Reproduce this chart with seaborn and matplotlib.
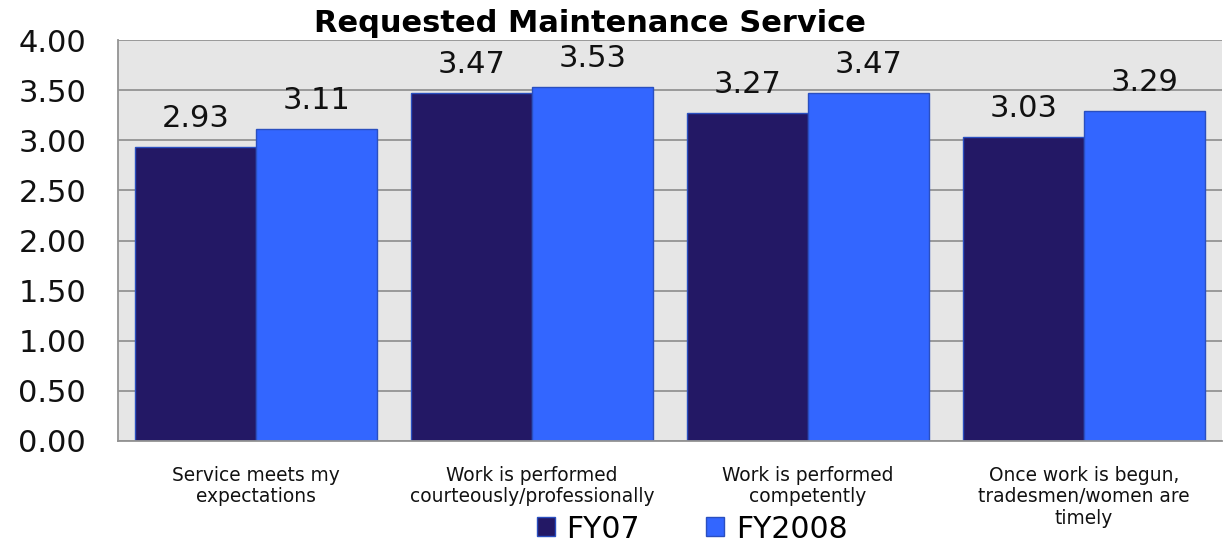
import matplotlib
matplotlib.use("Agg")
import matplotlib.pyplot as plt
import seaborn as sns
import pandas as pd
import numpy as np

categories = [
    "Service meets my\nexpectations",
    "Work is performed\ncourteously/professionally",
    "Work is performed\ncompetently",
    "Once work is begun,\ntradesmen/women are\ntimely",
]
fy07 = [2.93, 3.47, 3.27, 3.03]
fy2008 = [3.11, 3.53, 3.47, 3.29]
series_names = ["FY07", "FY2008"]
yticks = [0.0, 0.5, 1.0, 1.5, 2.0, 2.5, 3.0, 3.5, 4.0]

df = pd.DataFrame({
    "category": categories * 2,
    "series": [series_names[0]] * 4 + [series_names[1]] * 4,
    "value": fy07 + fy2008,
})

sns.set_style("white")
plt.rcParams["font.family"] = ["DejaVu Sans"]
plt.rcParams["text.color"] = "#000000"

fig = plt.figure(figsize=(12.26, 5.44), dpi=100)
ax = fig.add_axes([118 / 1226, 1 - 441 / 544, (1222 - 118) / 1226, (441 - 40) / 544])
ax.set_facecolor("#E6E6E6")

palette = {"FY07": "#231865", "FY2008": "#3366FF"}
sns.barplot(data=df, x="category", y="value", hue="series", palette=palette,
            width=0.875, ax=ax, saturation=1, edgecolor="#2A4FC0", linewidth=1.0)

for cont in ax.containers:
    ax.bar_label(cont, fmt="%.2f", padding=10, fontsize=22, color="#111111")

ax.set_ylim(0, 4)
ax.set_xlim(-0.5, 3.5)
ax.set_yticks(yticks)
ax.set_yticklabels([f"{v:.2f}" for v in yticks], fontsize=22)
ax.yaxis.grid(True, color="#939393", linewidth=1.3)
ax.set_axisbelow(True)

ax.tick_params(axis="y", length=10, width=1.3, color="#939393", pad=13, labelcolor="#111111")
ax.tick_params(axis="x", which="major", length=0, pad=18, labelsize=13.4, labelcolor="#111111")
ax.set_xticks(np.arange(-0.5, 4.0, 1.0), minor=True)
ax.tick_params(axis="x", which="minor", length=7, width=1.3, color="#939393")
for lab in ax.get_xticklabels():
    lab.set_linespacing(1.15)

for s in ["top", "right"]:
    ax.spines[s].set_visible(False)
for s in ["left", "bottom"]:
    ax.spines[s].set_color("#939393")
    ax.spines[s].set_linewidth(1.3)

ax.set_xlabel("")
ax.set_ylabel("")
fig.text(590 / 1226, 1 - 32 / 544, "Requested Maintenance Service", fontsize=22,
         fontweight="bold", ha="center", va="baseline", color="#000000")

handles, labels = ax.get_legend_handles_labels()
ax.get_legend().remove()
fig.legend(handles, labels, loc="center", bbox_to_anchor=(692 / 1226, 1 - 529 / 544),
           ncol=2, frameon=False, fontsize=21.5, handlelength=0.6, handleheight=0.6,
           handletextpad=0.4, columnspacing=2.2, borderaxespad=0, borderpad=0)

fig.savefig("out.png", dpi=100)
